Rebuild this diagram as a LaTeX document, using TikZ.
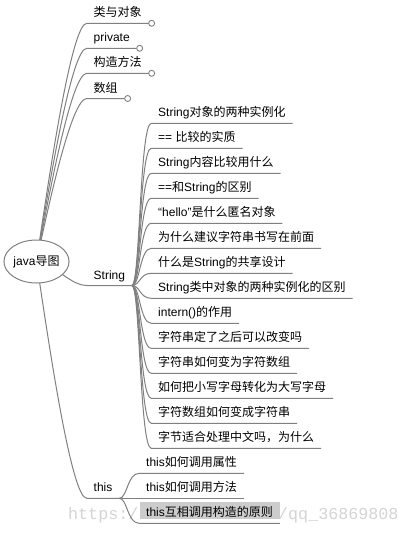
\documentclass[tikz,border=0pt]{standalone}
\usepackage{fontspec}
\setmainfont{Liberation Sans}
\newfontfamily\cjkf{Noto Sans CJK SC}
\newfontfamily\wmf{Liberation Mono}
\newcommand\zh[1]{{\cjkf #1}}
\usetikzlibrary{shapes.geometric,calc}
\pgfdeclarelayer{bg}
\pgfsetlayers{bg,main}
\definecolor{linegray}{RGB}{128,128,128}
\definecolor{boxgray}{RGB}{204,204,204}
\definecolor{wmgray}{RGB}{212,212,212}
\begin{document}
\begin{tikzpicture}[x=1pt,y=-1pt,
  ln/.style={draw=linegray, line width=1pt},
  lbl/.style={anchor=south west, inner xsep=6.75pt, inner ysep=0pt, text height=10pt, text depth=6.3pt, font=\fontsize{12}{14}\selectfont},
  wmark/.style={anchor=base west, inner sep=0pt, font=\wmf\fontsize{16.7}{18}\selectfont, text=wmgray},
  knob/.style={draw=linegray, fill=white, line width=0.9pt}]
\useasboundingbox (0,0) rectangle (410,533);

% root
\node[ellipse, draw=linegray, fill=white, line width=1pt, minimum width=63pt, minimum height=43pt, inner sep=0pt, font=\fontsize{12}{14}\selectfont] (root) at (36.5,261.5) {java\zh{导图}};

% first level
\node[lbl] (t1) at (86.75,23.3) {\zh{类与对象}};
\node[lbl] (t2) at (86.75,48.3) {private};
\node[lbl] (t3) at (86.75,73.3) {\zh{构造方法}};
\node[lbl] (t4) at (86.75,98.5) {\zh{数组}};
\node[lbl] (ts) at (86.75,285.5) {String};
\node[lbl] (tt) at (86.75,498.3) {this};

% String children
\node[lbl] (s1) at (151.25,123.3) {String\zh{对象的两种实例化}};
\node[lbl] (s2) at (151.25,148.3) {== \zh{比较的实质}};
\node[lbl] (s3) at (151.25,173.3) {String\zh{内容比较用什么}};
\node[lbl] (s4) at (151.25,198.3) {==\zh{和}String\zh{的区别}};
\node[lbl] (s5) at (151.25,223.3) {“hello”\zh{是什么匿名对象}};
\node[lbl] (s6) at (151.25,248.3) {\zh{为什么建议字符串书写在前面}};
\node[lbl] (s7) at (151.25,273.3) {\zh{什么是}String\zh{的共享设计}};
\node[lbl] (s8) at (151.25,298.3) {String\zh{类中对象的两种实例化的区别}};
\node[lbl] (s9) at (151.25,323.3) {intern()\zh{的作用}};
\node[lbl] (s10) at (151.25,348.3) {\zh{字符串定了之后可以改变吗}};
\node[lbl] (s11) at (151.25,373.3) {\zh{字符串如何变为字符数组}};
\node[lbl] (s12) at (151.25,398.3) {\zh{如何把小写字母转化为大写字母}};
\node[lbl] (s13) at (151.25,423.3) {\zh{字符数组如何变成字符串}};
\node[lbl] (s14) at (151.25,448.3) {\zh{字节适合处理中文吗，为什么}};

% this children
\node[lbl] (h1) at (139.25,473.3) {this\zh{如何调用属性}};
\node[lbl] (h2) at (139.25,498.3) {this\zh{如何调用方法}};
\node[lbl] (h3) at (139.25,523.3) {this\zh{互相调用构造的原则}};

\begin{pgfonlayer}{bg}
  % watermark (visible parts)
  \node[wmark] (wm1) at (68,519) {https:/};
  \node[wmark] (wm2) at (278,519) {/qq\_36869808};
  % highlight
  \fill[boxgray] ($(h3.south west)+(0.75,-21.6)$) rectangle ($(h3.south east)+(0,-4)$);

  % root connectors
  \draw[ln] (root.center) .. controls +(13.5,-91.7) and +(-15,0) .. (t1.south west) -- (t1.south east);
  \draw[ln] (root.center) .. controls +(13.5,-82) and +(-15,0) .. (t2.south west) -- (t2.south east);
  \draw[ln] (root.center) .. controls +(13.5,-72.5) and +(-15,0) .. (t3.south west) -- (t3.south east);
  \draw[ln] (root.center) .. controls +(13.5,-62.7) and +(-15,0) .. (t4.south west) -- (t4.south east);
  \draw[ln] (root.center) .. controls +(25,8) and +(-15,0) .. (ts.south west) -- (ts.south east);
  \draw[ln] (root.center) .. controls +(13.5,91) and +(-15,0) .. (tt.south west) -- (tt.south east);

  % String connectors
  \foreach \n in {s1,s2,s3,s4,s5,s6,s7,s8,s9,s10,s11,s12,s13,s14}{
    \draw[ln] (ts.south east) .. controls +(8,0) and +(-11.5,0) .. (\n.south west) -- (\n.south east);
  }
  % this connectors
  \foreach \n in {h1,h2,h3}{
    \draw[ln] (tt.south east) .. controls +(8,0) and +(-12,0) .. (\n.south west) -- (\n.south east);
  }
\end{pgfonlayer}

% collapse knobs
\draw[knob] ($(t1.south east)+(3,0)$) circle[radius=3];
\draw[knob] ($(t2.south east)+(3,0)$) circle[radius=3];
\draw[knob] ($(t3.south east)+(3,0)$) circle[radius=3];
\draw[knob] ($(t4.south east)+(3,0)$) circle[radius=3];
\end{tikzpicture}
\end{document}
